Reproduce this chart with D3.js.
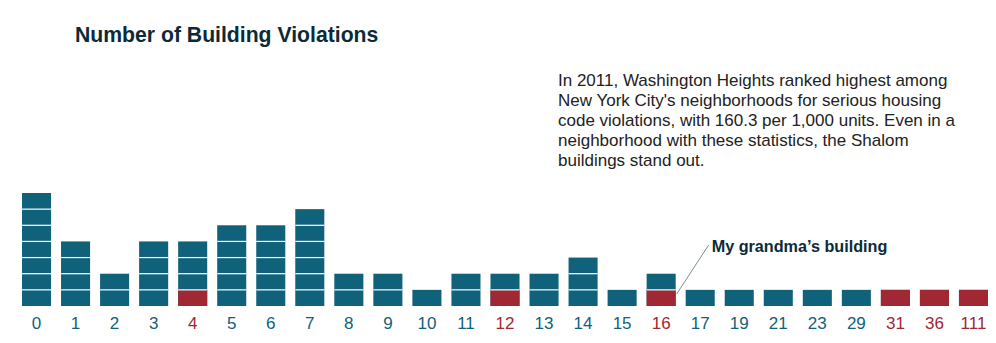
<!DOCTYPE html>
<html>
<head>
<meta charset="utf-8">
<script src="https://cdn.jsdelivr.net/npm/d3@7"></script>
<style>
  html, body { margin: 0; padding: 0; background: #fff; }
  svg { display: block; }
  text { font-family: "Liberation Sans", Arial, Helvetica, sans-serif; }
</style>
</head>
<body>
<svg id="chart" width="996" height="343"></svg>
<script>
// ---- data ----
const categories = ["0","1","2","3","4","5","6","7","8","9","10","11","12","13","14","15","16","17","19","21","23","29","31","36","111"];
const counts     = [7, 4, 2, 4, 4, 5, 5, 6, 2, 2, 1, 2, 2, 2, 3, 1, 2, 1, 1, 1, 1, 1, 1, 1, 1];
const shalom     = [0, 0, 0, 0, 1, 0, 0, 0, 0, 0, 0, 0, 1, 0, 0, 0, 1, 0, 0, 0, 0, 0, 1, 1, 1];
const titleText = "Number of Building Violations";
const noteLines = [
  "In 2011, Washington Heights ranked highest among",
  "New York City's neighborhoods for serious housing",
  "code violations, with 160.3 per 1,000 units. Even in a",
  "neighborhood with these statistics, the Shalom",
  "buildings stand out."
];
const calloutText = "My grandma\u2019s building";
const calloutCategory = "16";

// ---- styles ----
const teal = "#10617a";
const red = "#a02832";
const dark = "#0c2a38";

const svg = d3.select("#chart");

const x = d3.scaleBand().domain(categories).range([22, 988]).paddingInner(0.256).paddingOuter(0);
const y = d3.scaleLinear().domain([0, 7]).range([306, 193]);

const data = categories.map((c, i) => ({ cat: c, n: counts[i], red: shalom[i] }));

const bars = svg.append("g").selectAll("g").data(data).join("g")
  .attr("transform", d => `translate(${x(d.cat)},0)`);

bars.append("rect")
  .attr("x", 0).attr("width", x.bandwidth())
  .attr("y", d => y(d.n)).attr("height", d => y(0) - y(d.n))
  .attr("fill", teal);

bars.append("rect")
  .attr("x", 0).attr("width", x.bandwidth())
  .attr("y", d => y(d.red)).attr("height", d => y(0) - y(d.red))
  .attr("fill", red);

bars.each(function(d) {
  const g = d3.select(this);
  for (let i = 1; i < d.n; i++) {
    g.append("rect")
      .attr("x", 0).attr("width", x.bandwidth())
      .attr("y", y(i) - 0.6).attr("height", 1.2)
      .attr("fill", "#fff");
  }
});

// category labels
svg.append("g").selectAll("text").data(data).join("text")
  .attr("x", d => x(d.cat) + x.bandwidth() / 2)
  .attr("y", 329)
  .attr("text-anchor", "middle")
  .attr("font-size", 17)
  .attr("fill", d => d.red > 0 ? red : teal)
  .text(d => d.cat);

// title
svg.append("text")
  .attr("x", 75).attr("y", 42)
  .attr("font-size", 21.2).attr("font-weight", "bold")
  .attr("fill", dark)
  .text(titleText);

// paragraph
svg.append("g").selectAll("text").data(noteLines).join("text")
  .attr("x", 558)
  .attr("y", (d, i) => 86 + i * 20)
  .attr("font-size", 17)
  .attr("fill", "#222")
  .text(d => d);

// callout
const cx = x(calloutCategory) + x.bandwidth();
svg.append("line")
  .attr("x1", cx + 1).attr("y1", y(0) - 12)
  .attr("x2", cx + 33).attr("y2", y(0) - 61)
  .attr("stroke", "#7f8ea0").attr("stroke-width", 1);
svg.append("text")
  .attr("x", cx + 36).attr("y", 252)
  .attr("font-size", 16.2).attr("font-weight", "bold")
  .attr("fill", dark)
  .text(calloutText);
</script>
</body>
</html>
